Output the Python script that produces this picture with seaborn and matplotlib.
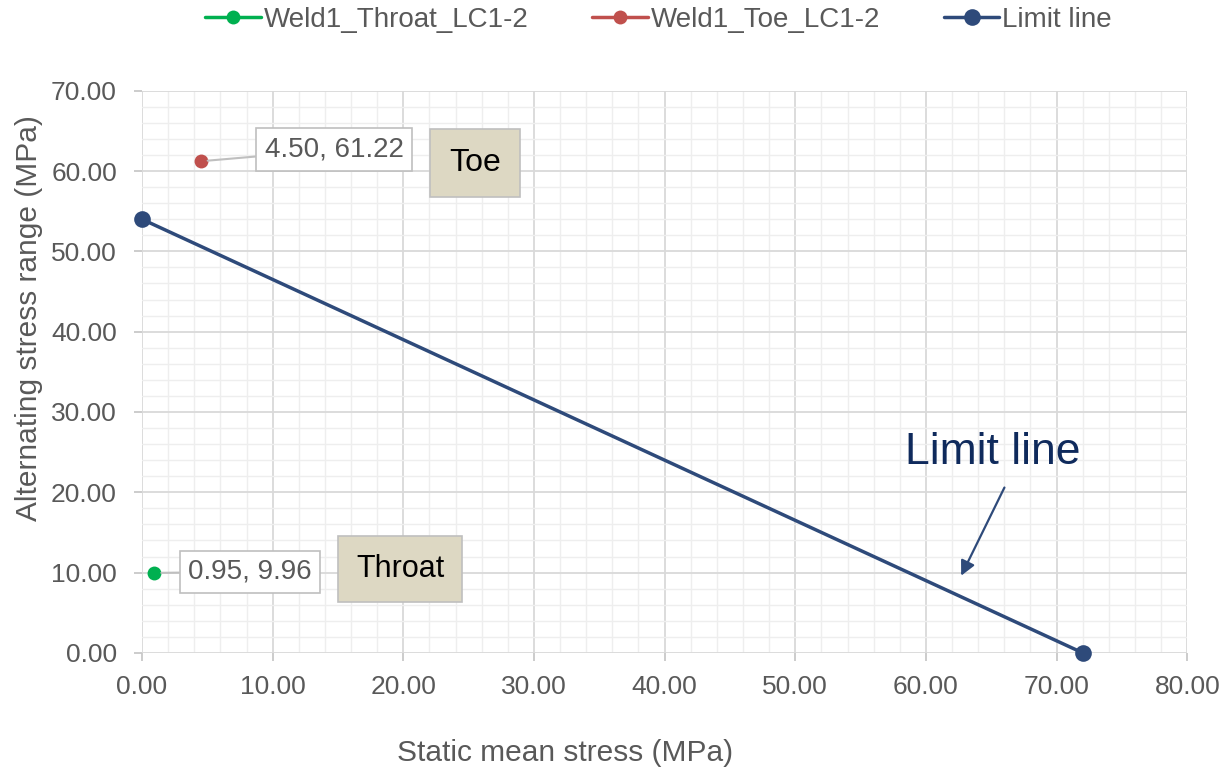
import matplotlib
matplotlib.use("Agg")
import matplotlib.pyplot as plt
from matplotlib.ticker import MultipleLocator, FormatStrFormatter
import numpy as np
import pandas as pd
import seaborn as sns

# Series data
throat_x = [0.95]
throat_y = [9.96]
toe_x = [4.50]
toe_y = [61.22]
limit_x = [0.0, 72.0]
limit_y = [54.0, 0.0]
series_names = ["Weld1_Throat_LC1-2", "Weld1_Toe_LC1-2", "Limit line"]

sns.set_style("white")
plt.rcParams["font.family"] = ["Liberation Sans", "DejaVu Sans"]

GREEN = "#00B050"
RED = "#C0504D"
NAVY = "#2E4A7A"
TICK_GREY = "#595959"

fig = plt.figure(figsize=(12.24, 7.69), dpi=100)
ax = fig.add_axes([0.116, 0.151, 0.854, 0.731])

df_throat = pd.DataFrame({"x": throat_x, "y": throat_y})
df_toe = pd.DataFrame({"x": toe_x, "y": toe_y})
df_limit = pd.DataFrame({"x": limit_x, "y": limit_y})

sns.lineplot(data=df_throat, x="x", y="y", ax=ax, color=GREEN, marker="o",
             markersize=10, markeredgewidth=0, linewidth=2.5,
             label=series_names[0], zorder=5)
sns.lineplot(data=df_toe, x="x", y="y", ax=ax, color=RED, marker="o",
             markersize=10, markeredgewidth=0, linewidth=2.5,
             label=series_names[1], zorder=5)
sns.lineplot(data=df_limit, x="x", y="y", ax=ax, color=NAVY, marker="o",
             markersize=12, markeredgewidth=0, linewidth=2.5,
             label=series_names[2], zorder=4)
for ln in ax.lines:
    ln.set_clip_on(False)

ax.set_xlim(0, 80)
ax.set_ylim(0, 70)
ax.xaxis.set_major_locator(MultipleLocator(10))
ax.yaxis.set_major_locator(MultipleLocator(10))
ax.xaxis.set_minor_locator(MultipleLocator(2))
ax.yaxis.set_minor_locator(MultipleLocator(2))
ax.xaxis.set_major_formatter(FormatStrFormatter("%.2f"))
ax.yaxis.set_major_formatter(FormatStrFormatter("%.2f"))

ax.grid(which="major", color="#D9D9D9", linewidth=1.3, zorder=0)
ax.grid(which="minor", color="#EEEEEE", linewidth=1.0, zorder=0)
ax.set_axisbelow(True)
for s in ax.spines.values():
    s.set_visible(False)

ax.tick_params(axis="both", which="major", labelsize=19, labelcolor=TICK_GREY,
               length=6, width=1.3, color="#C8C8C8")
ax.tick_params(axis="x", which="major", pad=10)
ax.tick_params(axis="y", which="major", pad=12)
ax.tick_params(axis="both", which="minor", length=0)
ax.tick_params(axis="x", bottom=True)
ax.tick_params(axis="y", left=True)

ax.set_xlabel("Static mean stress (MPa)", fontsize=21.5, color=TICK_GREY)
ax.set_ylabel("Alternating stress range (MPa)", fontsize=21.5, color=TICK_GREY)
ax.xaxis.set_label_coords(0.405, -0.153)
ax.yaxis.set_label_coords(-0.095, 0.596)

# Data labels with leader lines
label_box = dict(boxstyle="square,pad=0.3", fc="white", ec="#BFBFBF", lw=1.2)
ax.annotate(f"{toe_x[0]:.2f}, {toe_y[0]:.2f}", xy=(toe_x[0], toe_y[0]),
            xytext=(14.7, 62.65), ha="center", va="center", fontsize=20,
            color=TICK_GREY, bbox=label_box,
            arrowprops=dict(arrowstyle="-", color="#BFBFBF", lw=1.5,
                            shrinkA=0, shrinkB=5),
            zorder=6)
ax.annotate(f"{throat_x[0]:.2f}, {throat_y[0]:.2f}", xy=(throat_x[0], throat_y[0]),
            xytext=(8.27, 10.09), ha="center", va="center", fontsize=20,
            color=TICK_GREY, bbox=label_box,
            arrowprops=dict(arrowstyle="-", color="#BFBFBF", lw=1.5,
                            shrinkA=0, shrinkB=5),
            zorder=6)

# Tag boxes
tag_box = dict(boxstyle="square,pad=0.6", fc="#DDD8C3", ec="#BFBFBF", lw=1.2)
ax.text(25.5, 61.0, "Toe", ha="center", va="center", fontsize=23, color="black",
        bbox=tag_box, zorder=6)
ax.text(19.75, 10.46, "Throat", ha="center", va="center", fontsize=22, color="black",
        bbox=tag_box, zorder=6)

# Limit line callout
ax.text(65.1, 24.9, "Limit line", ha="center", va="center", fontsize=32,
        color="#0F2A5C", zorder=6)
ax.annotate("", xy=(62.6, 9.3), xytext=(66.1, 20.9),
            arrowprops=dict(arrowstyle="-|>", color=NAVY, lw=1.6,
                            mutation_scale=22),
            zorder=6)

ax.legend_.remove()
handles, labels = ax.get_legend_handles_labels()
fig.legend(handles, labels, loc="center", bbox_to_anchor=(0.538, 0.974), ncol=3,
           frameon=False, fontsize=20, handlelength=2.0, handletextpad=0.1,
           columnspacing=2.3, labelcolor=TICK_GREY)

fig.savefig("out.png", dpi=100)
